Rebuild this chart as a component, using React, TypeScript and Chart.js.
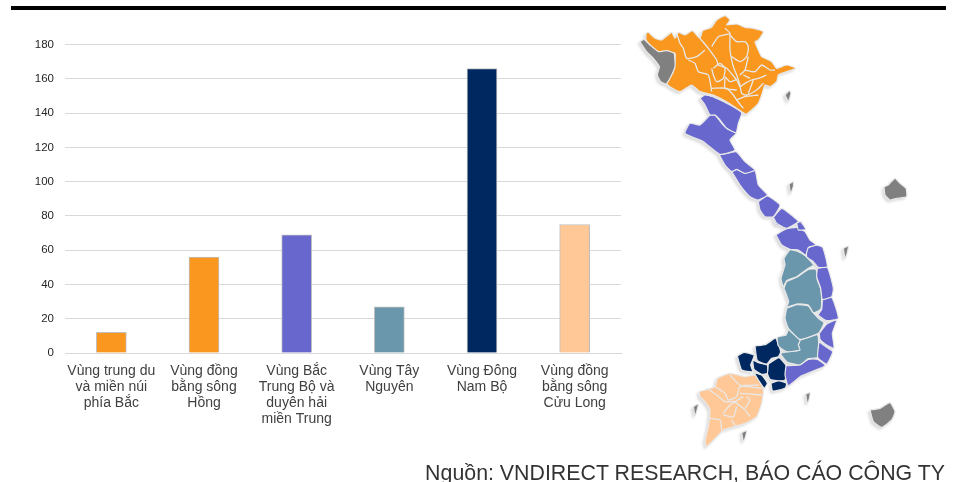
import React, { useEffect, useRef } from "react";
import { Chart, registerables } from "chart.js";

Chart.register(...registerables);

// Bar chart values by region
const regionLabels = [
  ["Vùng trung du", "và miền núi", "phía Bắc"],
  ["Vùng đồng", "bằng sông", "Hồng"],
  ["Vùng Bắc", "Trung Bộ và", "duyên hải", "miền Trung"],
  ["Vùng Tây", "Nguyên"],
  ["Vùng Đông", "Nam Bộ"],
  ["Vùng đồng", "bằng sông", "Cửu Long"],
];
const regionValues = [12, 56, 69, 27, 166, 75];
const regionColors = ["#F9971F", "#F9971F", "#6767CE", "#6B97AC", "#002860", "#FFC896"];

type Pt = [number, number];
const p = (...a: number[]): Pt[] => {
  const out: Pt[] = [];
  for (let i = 0; i < a.length; i += 2) out.push([a[i], a[i + 1]]);
  return out;
};
// Southern outlines are listed with a vertical offset of 660 map units
const s = (...a: number[]): Pt[] => p(...a).map(([x, y]) => [x, y + 660] as Pt);

// Map shapes, in map units
const orangeShapes: Pt[][] = [
  p(48,100,55,97,75,115,95,120,125,97,135,115,145,97,165,105,187,92,210,115,218,92,245,82,260,60,285,47,300,60,290,75,320,72,345,82,370,85,400,95,385,120,375,125,385,150,395,170,425,185,440,205,470,195,498,205,470,215,445,225,440,245,420,260,405,255,395,285,385,310,350,342,335,335,290,305,250,285,210,275,185,255,150,275,120,260,110,250,130,215,135,160,100,155,85,155,60,135,48,120),
];
const orangeBorders: Pt[][] = [
  p(140,100,150,130,160,145,170,175,200,170,225,150),
  p(210,115,235,145,260,180,265,195,290,205,320,240),
  p(175,180,195,190,205,215,235,225,245,275),
  p(285,85,300,100,265,110,245,140),
  p(300,100,300,150,310,200,320,225,330,255),
  p(300,105,320,125,345,125,355,140,350,170,330,185,305,170),
  p(355,170,345,210,330,225),
  p(345,210,375,215,395,195,420,210,435,210),
  p(250,205,270,190,285,205,280,235,260,245,250,225,245,205),
  p(285,230,300,245,320,240,330,260,345,250,365,240,385,235,410,225),
  p(245,265,290,265,310,285,320,300,340,325),
  p(320,300,345,290,385,285),
  p(330,255,335,280,350,285,380,270,400,250),
  p(285,235,285,265,320,270),
  p(370,240,355,280),
  p(340,225,360,235),
];
const purpleShapes: Pt[][] = [
  p(210,295,225,285,260,295,300,315,335,338,325,370,318,398,290,385,270,360,255,345,240,345,225,315),
  p(240,345,255,345,275,370,290,385,318,400,300,420,315,450,290,460,268,462,220,425,165,400,180,370,210,375),
  p(268,465,318,455,345,485,375,510,345,520,320,508,305,515,285,495),
  p(305,515,320,508,345,520,375,512,385,555,412,585,385,600,360,590,330,555),
  p(385,605,412,588,450,615,430,650,405,650,390,630),
  p(430,652,455,625,490,650,505,665,470,685,440,670),
  p(500,668,512,665,527,688,505,690),
  s(430,0,500,0,470,15,440,15),
  s(500,8,515,5,522,22,505,25),
  s(438,45,465,28,500,22,525,35,540,60,558,75,535,82,527,105,505,90,480,88,455,75),
  s(530,85,555,75,578,82,592,140,565,142,550,125,530,110),
  s(562,145,592,142,610,205,605,230,577,238,572,205,560,170),
  s(577,240,605,232,625,295,590,302,565,285,575,268),
  s(568,340,590,312,620,300,607,340,612,385,590,375,570,358),
  s(567,365,590,382,608,395,590,432,563,412),
  s(468,437,510,435,535,418,563,418,585,437,545,455,510,470,475,497,465,465),
];
const tealShapes: Pt[][] = [
  s(480,88,505,95,527,108,550,135,535,145,500,170,470,182,460,200,453,175,465,135,462,115),
  s(462,205,470,185,500,172,535,148,558,148,562,180,572,205,575,240,572,268,550,278,535,255,500,252,470,262,476,245),
  s(470,265,500,254,535,258,550,278,565,295,582,308,565,340,510,358,475,325,465,295),
  s(475,328,510,360,505,375,510,390,470,395,445,378,442,352,468,345),
  s(510,360,563,345,563,412,535,416,510,435,470,425,452,400,508,390,505,375),
];
const navyShapes: Pt[][] = [
  s(375,378,408,373,437,355,452,395,445,410,425,415,410,432,382,422),
  s(322,408,342,397,372,405,368,420,362,435,368,455,335,450),
  s(368,420,385,428,412,435,412,460,395,463,372,448),
  s(415,432,447,413,470,440,465,480,440,482,420,478,412,460),
  s(372,458,395,465,412,490,403,505,385,480),
  s(423,490,445,482,470,490,465,505,428,513),
];
const peachShapes: Pt[][] = [
  s(207,515,255,500,262,475,300,460,345,470,380,465,400,510,395,550,380,590,345,610,280,630,270,640,230,680,225,665,235,620,240,570,225,545,210,530),
];
const peachBorders: Pt[][] = [
  s(255,500,285,520,295,540,320,530,330,500,395,505),
  s(230,505,260,525,285,545,310,545,345,570,360,590),
  s(300,465,330,495,385,495),
  s(330,520,395,525),
  s(280,580,300,555,340,530),
  s(235,595,270,600,275,630),
  s(280,585,310,590,320,560),
  s(305,600,318,622),
  s(350,530,360,540,345,565),
];
const grayShapes: Pt[][] = [
  p(30,125,42,118,60,135,85,155,110,152,132,160,135,200,120,235,108,252,92,245,82,225,88,200,70,175,50,155),
  p(465,285,478,272,483,280,475,305,470,295),
  p(477,552,490,545,490,560,482,580),
  p(762,560,775,555,795,535,810,550,828,565,830,590,800,595,780,600,765,585),
  s(640,85,655,78,650,105,645,115),
  s(527,522,540,518,537,540,532,550),
  s(720,570,750,565,780,548,795,575,785,600,755,622,730,605),
  s(190,560,205,552,200,575,195,588),
  s(335,638,350,632,345,655,340,665),
];

const mapGroups: { shapes: Pt[][]; color: string }[] = [
  { shapes: grayShapes, color: "#808080" },
  { shapes: orangeShapes, color: "#F9971F" },
  { shapes: purpleShapes, color: "#6767CE" },
  { shapes: tealShapes, color: "#6B97AC" },
  { shapes: navyShapes, color: "#002860" },
  { shapes: peachShapes, color: "#FFC896" },
];
const borderLines: Pt[][] = [...orangeBorders, ...peachBorders];

const sans = '"Liberation Sans", Arial, sans-serif';

export default function App() {
  const barRef = useRef<HTMLCanvasElement>(null);
  const mapRef = useRef<HTMLCanvasElement>(null);

  useEffect(() => {
    const bars = new Chart(barRef.current!, {
      type: "bar",
      data: {
        labels: regionLabels as any,
        datasets: [
          {
            data: regionValues,
            backgroundColor: regionColors,
            borderColor: "#BFBFBF",
            borderWidth: 1,
            barThickness: 30,
          },
        ],
      },
      options: {
        animation: false,
        responsive: false,
        layout: { padding: { left: 0, right: 336, top: 44.5, bottom: 0 } },
        plugins: { legend: { display: false }, tooltip: { enabled: false } },
        scales: {
          x: {
            grid: { display: false },
            border: { color: "#D9D9D9" },
            ticks: {
              autoSkip: false,
              maxRotation: 0,
              minRotation: 0,
              padding: 2,
              color: "#404040",
              font: { family: sans, size: 14, lineHeight: 1.143 },
            },
            afterFit: (scale: any) => {
              scale.height = 129;
            },
          },
          y: {
            min: 0,
            max: 180,
            grid: { color: "#D9D9D9", drawTicks: false },
            border: { display: false },
            ticks: {
              stepSize: 20,
              padding: 11,
              color: "#262626",
              font: { family: sans, size: 11.5 },
            },
            afterFit: (scale: any) => {
              scale.width = 65;
            },
          },
        },
      },
    });

    // Datasets listed first paint on top, so the inner borders lead the list
    const lines = borderLines.map((line) => ({
      data: line.map(([x, y]) => ({ x, y })),
      showLine: true,
      fill: false,
      borderColor: "#E8E8E8",
      borderWidth: 1.3,
      pointRadius: 0,
      tension: 0.2,
    }));
    const fills = mapGroups.flatMap((g) =>
      g.shapes.map((shape) => ({
        data: [...shape, shape[0]].map(([x, y]) => ({ x, y })),
        showLine: true,
        fill: "shape" as const,
        backgroundColor: g.color,
        borderColor: "#E8E8E8",
        borderWidth: 1.2,
        pointRadius: 0,
        tension: 0.15,
      }))
    );
    const map = new Chart(mapRef.current!, {
      type: "scatter",
      data: { datasets: [...lines, ...fills] as any },
      options: {
        animation: false,
        responsive: false,
        layout: { padding: 0 },
        plugins: { legend: { display: false }, tooltip: { enabled: false } },
        scales: {
          x: { type: "linear", display: false, min: 0, max: 981 },
          y: { type: "linear", display: false, min: 0, max: 1446, reverse: true },
        },
      },
    });

    return () => {
      bars.destroy();
      map.destroy();
    };
  }, []);

  return (
    <div style={{ position: "fixed", left: 0, top: 0, width: 957, height: 482, overflow: "hidden", background: "#fff" }}>
      <canvas ref={barRef} width={957} height={482} style={{ position: "absolute", left: 0, top: 0 }} />
      <canvas
        ref={mapRef}
        width={327}
        height={482}
        style={{
          position: "absolute",
          left: 630,
          top: 0,
          filter: "blur(0.4px) drop-shadow(-1.5px 2px 1px rgba(0,0,0,0.13))",
        }}
      />
      <div style={{ position: "absolute", left: 11, top: 6, width: 935, height: 4, background: "#000" }} />
      <div
        style={{
          position: "absolute",
          right: 12,
          top: 461,
          font: `21.35px ${sans}`,
          color: "#333",
          whiteSpace: "nowrap",
        }}
      >
        Nguồn: VNDIRECT RESEARCH, BÁO CÁO CÔNG TY
      </div>
    </div>
  );
}
